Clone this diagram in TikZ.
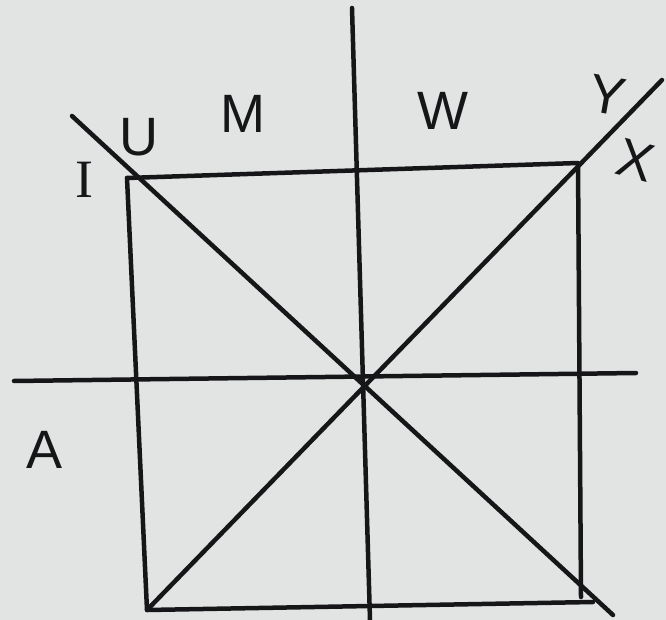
\documentclass[tikz,border=0pt]{standalone}
\usepackage{fontspec}
\setmainfont{Liberation Sans}
\newfontfamily\serifI{Liberation Serif}
\definecolor{paper}{RGB}{226,228,228}
\definecolor{ink}{RGB}{22,22,24}
\begin{document}
\begin{tikzpicture}[x=1pt,y=-1pt,
  stroke/.style={draw=ink,line width=4.5pt,line cap=round,line join=round},
  letter/.style={text=ink,font=\fontsize{54}{58}\selectfont,inner sep=0pt}]
\fill[paper] (0,0) rectangle (666,620);
\useasboundingbox (0,0) rectangle (666,620);
% square corners
\coordinate (tl) at (127,178);
\coordinate (tr) at (578,163);
\coordinate (br) at (581,597);
\coordinate (bl) at (147,610);
\coordinate (bre) at (593,602);
% axis ends
\coordinate (vt) at (352,8);
\coordinate (vb) at (370,620);
\coordinate (hl) at (14,381);
\coordinate (hr) at (636,373);
% diagonal ends
\coordinate (d1a) at (72,116);
\coordinate (d1b) at (613,615);
\coordinate (d2b) at (662,80);
% square
\draw[stroke] (tl) -- (tr) -- (br);
\draw[stroke] (tl) -- (bl) -- (bre);
% axes
\draw[stroke] (vt) -- (vb);
\draw[stroke] (hl) -- (hr);
% diagonals
\draw[stroke] (d1a) -- (d1b);
\draw[stroke] (bl) -- (d2b);
% labels
\node[letter,font=\serifI\fontsize{54}{58}\selectfont] (I) at (84,180) {I};
\node[letter] (U) at (139,137) {U};
\node[letter] (M) at (243,114) {M};
\node[letter] (W) at (443,111) {W};
\node[letter,rotate=-10] (Y) at (607,95) {Y};
\node[letter,rotate=-15] (X) at (636,160) {X};
\node[letter] (A) at (45,450) {A};
\end{tikzpicture}
\end{document}
